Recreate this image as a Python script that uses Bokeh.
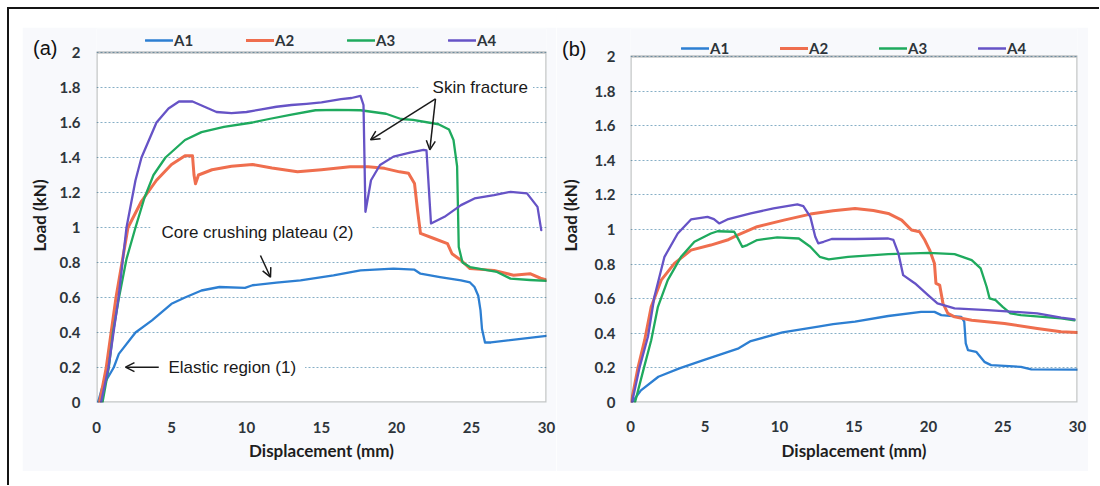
from bokeh.plotting import figure
from bokeh.models import (Range1d, FixedTicker, Legend, LegendItem, Label, Arrow, OpenHead,
                          BoxAnnotation, LinearAxis)
from bokeh.layouts import row
from bokeh.embed import file_html
from bokeh.resources import INLINE

# ---------------- data ----------------
series = ["A1", "A2", "A3", "A4"]
colors = ["#2D7FD2", "#EF6E4E", "#1FAA5E", "#6653C6"]
widths = [2.3, 3.0, 2.3, 2.3]

y_ticks = [0, 0.2, 0.4, 0.6, 0.8, 1.0, 1.2, 1.4, 1.6, 1.8, 2.0]
y_tick_labels = ["0", "0.2", "0.4", "0.6", "0.8", "1", "1.2", "1.4", "1.6", "1.8", "2"]
x_ticks = [0, 5, 10, 15, 20, 25, 30]
x_tick_labels = ["0", "5", "10", "15", "20", "25", "30"]

# panel (a)
a_A1_x = [0.1, 0.38, 1.15, 1.49, 2.6, 3.7, 5.0, 5.9, 7.0, 8.2, 9.9, 10.4, 12.0, 13.6, 15.8, 17.6, 19.8, 21.2, 21.6, 22.9, 24.3, 24.9, 25.2, 25.45, 25.6, 25.7, 25.9, 26.3, 30.0]
a_A1_y = [0.0, 0.087, 0.2, 0.278, 0.4, 0.469, 0.564, 0.6, 0.64, 0.66, 0.655, 0.67, 0.685, 0.698, 0.727, 0.755, 0.765, 0.759, 0.736, 0.717, 0.698, 0.686, 0.66, 0.61, 0.526, 0.42, 0.343, 0.343, 0.381]

a_A2_x = [0.2, 0.65, 1.3, 2.1, 3.0, 4.0, 5.0, 5.9, 6.4, 6.5, 6.6, 6.8, 7.7, 9.0, 10.4, 11.7, 13.4, 15.0, 16.9, 18.1, 19.2, 20.2, 20.8, 21.2, 21.4, 21.6, 22.5, 23.4, 23.7, 24.3, 24.9, 26.5, 27.8, 28.9, 29.6, 30.0]
a_A2_y = [0.0, 0.2, 0.6, 1.0, 1.15, 1.27, 1.36, 1.41, 1.41, 1.30, 1.25, 1.30, 1.33, 1.35, 1.36, 1.34, 1.318, 1.33, 1.347, 1.347, 1.338, 1.318, 1.31, 1.252, 1.10, 0.966, 0.937, 0.908, 0.85, 0.813, 0.765, 0.755, 0.727, 0.736, 0.71, 0.70]

a_A3_x = [0.4, 0.82, 1.1, 1.5, 2.0, 2.6, 3.2, 3.8, 4.6, 5.9, 7.0, 8.5, 10.4, 11.5, 13.0, 14.6, 16.0, 17.6, 19.3, 20.3, 21.1, 22.8, 23.5, 23.8, 24.04, 24.15, 24.4, 24.9, 26.7, 27.6, 28.9, 30.0]
a_A3_y = [0.0, 0.2, 0.4, 0.6, 0.82, 1.0, 1.17, 1.3, 1.4, 1.50, 1.545, 1.575, 1.60, 1.62, 1.645, 1.67, 1.672, 1.67, 1.65, 1.62, 1.615, 1.59, 1.56, 1.50, 1.35, 0.889, 0.80, 0.774, 0.746, 0.708, 0.70, 0.695]

a_A4_x = [0.3, 0.8, 1.47, 2.0, 2.6, 3.0, 4.0, 4.8, 5.5, 6.4, 7.2, 8.0, 9.0, 10.0, 11.0, 12.0, 13.0, 14.0, 15.0, 16.3, 17.0, 17.6, 17.8, 17.93, 18.3, 18.9, 19.8, 20.9, 21.8, 22.0, 22.3, 23.2, 24.3, 25.2, 26.5, 27.6, 28.7, 29.4, 29.65]
a_A4_y = [0.0, 0.2, 0.6, 1.0, 1.27, 1.4, 1.6, 1.68, 1.72, 1.72, 1.69, 1.66, 1.653, 1.66, 1.675, 1.69, 1.70, 1.707, 1.715, 1.733, 1.74, 1.752, 1.70, 1.09, 1.27, 1.357, 1.405, 1.428, 1.443, 1.44, 1.023, 1.061, 1.128, 1.166, 1.185, 1.204, 1.195, 1.118, 0.985]

# panel (b)
b_A1_x = [0.1, 0.7, 1.87, 3.28, 4.9, 7.26, 8.07, 10.2, 12.6, 13.6, 15.07, 17.3, 19.5, 20.4, 20.86, 22.2, 22.4, 22.5, 22.65, 23.2, 23.75, 24.2, 26.2, 26.9, 30.0]
b_A1_y = [0.0, 0.07, 0.149, 0.197, 0.245, 0.313, 0.355, 0.405, 0.439, 0.453, 0.467, 0.5, 0.524, 0.524, 0.505, 0.495, 0.467, 0.342, 0.303, 0.293, 0.235, 0.216, 0.206, 0.191, 0.19]

b_A2_x = [0.05, 0.5, 0.95, 1.39, 2.06, 2.95, 4.06, 5.39, 6.5, 7.18, 8.5, 10.3, 12.07, 13.6, 15.07, 16.3, 17.3, 18.2, 18.86, 19.4, 19.75, 20.08, 20.4, 20.5, 20.75, 20.97, 21.3, 21.75, 22.9, 25.1, 27.3, 28.9, 30.0]
b_A2_y = [0.0, 0.2, 0.36, 0.553, 0.707, 0.804, 0.881, 0.91, 0.939, 0.968, 1.016, 1.054, 1.089, 1.108, 1.122, 1.11, 1.093, 1.054, 0.997, 0.987, 0.939, 0.881, 0.804, 0.688, 0.679, 0.573, 0.515, 0.495, 0.476, 0.457, 0.428, 0.409, 0.405]

b_A3_x = [0.3, 0.9, 1.39, 1.84, 2.5, 3.39, 4.29, 5.39, 5.84, 6.96, 7.2, 7.5, 7.84, 8.5, 9.85, 11.3, 12.07, 12.7, 13.3, 14.6, 17.3, 20.0, 21.75, 22.9, 23.5, 23.9, 24.1, 24.5, 24.98, 25.5, 26.2, 28.9, 29.8]
b_A3_y = [0.0, 0.2, 0.36, 0.553, 0.707, 0.842, 0.929, 0.977, 0.99, 0.987, 0.95, 0.9, 0.91, 0.939, 0.954, 0.948, 0.9, 0.842, 0.827, 0.842, 0.858, 0.865, 0.858, 0.823, 0.775, 0.669, 0.602, 0.592, 0.553, 0.515, 0.505, 0.486, 0.475]

b_A4_x = [0.1, 0.6, 1.17, 1.6, 2.28, 3.17, 4.06, 5.17, 5.6, 5.95, 6.5, 8.07, 9.6, 11.2, 11.6, 12.07, 12.4, 12.6, 12.96, 13.5, 15.07, 17.3, 17.64, 17.98, 18.3, 19.1, 19.97, 20.6, 21.75, 23.97, 25.75, 27.3, 28.9, 29.8]
b_A4_y = [0.0, 0.2, 0.38, 0.61, 0.842, 0.977, 1.058, 1.073, 1.06, 1.035, 1.058, 1.093, 1.122, 1.145, 1.135, 1.073, 0.958, 0.92, 0.929, 0.945, 0.945, 0.948, 0.94, 0.862, 0.736, 0.688, 0.621, 0.573, 0.544, 0.534, 0.524, 0.515, 0.49, 0.48]

panel_a = [(a_A1_x, a_A1_y), (a_A2_x, a_A2_y), (a_A3_x, a_A3_y), (a_A4_x, a_A4_y)]
panel_b = [(b_A1_x, b_A1_y), (b_A2_x, b_A2_y), (b_A3_x, b_A3_y), (b_A4_x, b_A4_y)]

TICK_FONT = "Lato"
TITLE_FONT = "Lato"
NOTE_FONT = "Liberation Sans"
BG_OUT = "#F8F9FC"
BG_IN = "#FFFFFF"
TXT = "#2E353B"


def make_panel(tag, tag_y, data, width, height, y_top, mb, legend_loc, legend_spacing,
               ylab_standoff, ytick_standoff, xtick_standoff, xlab_standoff, tag_standoff):
    p = figure(width=width, height=height, output_backend="svg", toolbar_location=None,
               x_range=Range1d(0, 30), y_range=Range1d(0, y_top),
               min_border_left=mb[0], min_border_right=mb[1],
               min_border_top=mb[2], min_border_bottom=mb[3])
    p.background_fill_color = BG_OUT
    p.border_fill_color = BG_OUT
    p.outline_line_color = None
    p.xgrid.visible = False
    p.ygrid.ticker = FixedTicker(ticks=y_ticks)
    p.ygrid.grid_line_color = "#86AFC6"
    p.ygrid.grid_line_dash = "2 2"
    p.ygrid.grid_line_width = 1.2

    # plot area (white box drawn below the grid, border drawn on top)
    p.add_layout(BoxAnnotation(left=0, right=30, bottom=0, top=2, fill_color=BG_IN,
                               fill_alpha=1, line_color=None, level="image"))
    p.add_layout(BoxAnnotation(left=0, right=30, bottom=0, top=2, fill_alpha=0,
                               line_color="#3B4147", line_width=2.5))

    p.xaxis.ticker = FixedTicker(ticks=x_ticks)
    p.xaxis.major_label_overrides = {t: l for t, l in zip(x_ticks, x_tick_labels)}
    p.yaxis.ticker = FixedTicker(ticks=y_ticks)
    p.yaxis.major_label_overrides = {t: l for t, l in zip(y_ticks, y_tick_labels)}
    p.yaxis.bounds = (0, 2)
    for ax in (p.xaxis[0], p.yaxis[0]):
        ax.axis_line_color = None
        ax.major_tick_line_color = None
        ax.minor_tick_line_color = None
        ax.major_tick_out = 0
        ax.major_tick_in = 0
        ax.major_label_text_font = TICK_FONT
        ax.major_label_text_font_size = "15px"
        ax.major_label_text_font_style = "bold"
        ax.major_label_text_color = TXT
        ax.axis_label_text_font = TITLE_FONT
        ax.axis_label_text_font_size = "17px"
        ax.axis_label_text_font_style = "bold"
        ax.axis_label_text_color = "#1E1E1E"
    p.xaxis.axis_label = "Displacement (mm)"
    p.yaxis.axis_label = "Load (kN)"
    p.yaxis.major_label_standoff = ytick_standoff
    p.yaxis.axis_label_standoff = ylab_standoff
    p.xaxis.major_label_standoff = xtick_standoff
    p.xaxis.axis_label_standoff = xlab_standoff

    # panel tag "(a)" / "(b)" as the only label of an extra, invisible left axis
    tag_axis = LinearAxis(ticker=FixedTicker(ticks=[tag_y]),
                          major_label_overrides={tag_y: tag},
                          axis_line_color=None, major_tick_line_color=None,
                          minor_tick_line_color=None, major_tick_out=0, major_tick_in=0,
                          major_label_standoff=tag_standoff,
                          major_label_text_font="Liberation Sans",
                          major_label_text_font_size="20px",
                          major_label_text_color="#111111")
    p.add_layout(tag_axis, "left")

    items = []
    for name, (xs, ys), c, w in zip(series, data, colors, widths):
        r = p.line(xs, ys, line_color=c, line_width=w, line_join="round", line_cap="round")
        items.append(LegendItem(label=name, renderers=[r]))

    leg = Legend(items=items, orientation="horizontal", location=legend_loc,
                 glyph_width=28, glyph_height=14, label_standoff=1,
                 spacing=legend_spacing, padding=0, margin=0,
                 border_line_color=None, background_fill_alpha=0,
                 label_text_font=TICK_FONT, label_text_font_size="15px",
                 label_text_font_style="bold", label_text_color=TXT)
    p.add_layout(leg)
    return p


# frame spans from 28 px (page) to 402 px: y range extended above 2 for legend room
pa = make_panel("(a)", 2.026, panel_a, width=534, height=444, y_top=374 / 175.0,
                mb=(74, 10, 1, 69), legend_loc=(49, 353), legend_spacing=52,
                ylab_standoff=7, ytick_standoff=16, xtick_standoff=19, xlab_standoff=4,
                tag_standoff=-32)
pb = make_panel("(b)", 2.043, panel_b, width=532, height=444, y_top=374 / 173.0,
                mb=(72, 11, 1, 69), legend_loc=(51, 345), legend_spacing=50,
                ylab_standoff=11, ytick_standoff=15, xtick_standoff=18, xlab_standoff=5,
                tag_standoff=-30)

# annotations of panel (a): (text, anchor x, y, padding of the masking box)
notes = [
    ("Skin fracture", 21.47, 1.80, dict(left=14, right=5, top=3, bottom=3)),
    ("Core crushing plateau  (2)", 3.6, 0.973, dict(left=11, right=13, top=3, bottom=3)),
    ("Elastic region (1)", 1.6, 0.202, dict(left=48, right=9, top=3, bottom=3)),
]
for txt, x, y, pad in notes:
    pa.add_layout(Label(x=x, y=y, text=txt, text_font=NOTE_FONT, text_font_size="17px",
                        text_color="#1A1A1A", text_align="left", text_baseline="middle",
                        background_fill_color=BG_IN, padding=pad))

arrows = [
    (22.6, 1.735, 18.27, 1.501),
    (22.6, 1.735, 22.22, 1.444),
    (10.93, 0.84, 11.6, 0.716),
    (4.15, 0.202, 1.93, 0.202),
]
for xs, ys, xe, ye in arrows:
    pa.add_layout(Arrow(end=OpenHead(size=9, line_width=1.5, line_color="#1A1A1A"),
                        x_start=xs, y_start=ys, x_end=xe, y_end=ye,
                        line_width=1.5, line_color="#1A1A1A"))

pa.margin = (18, 0, 14, 13)
pb.margin = (18, 11, 14, 0)

layout = row(pa, pb, spacing=0, margin=(7, 0, 0, 7),
             styles={"border-left": "2px solid #151515", "border-top": "2px solid #151515",
                     "border-right": "0px none transparent", "border-bottom": "0px none transparent",
                     "outline": "none", "box-shadow": "none"})

open("out.html", "w").write(file_html(layout, INLINE))
